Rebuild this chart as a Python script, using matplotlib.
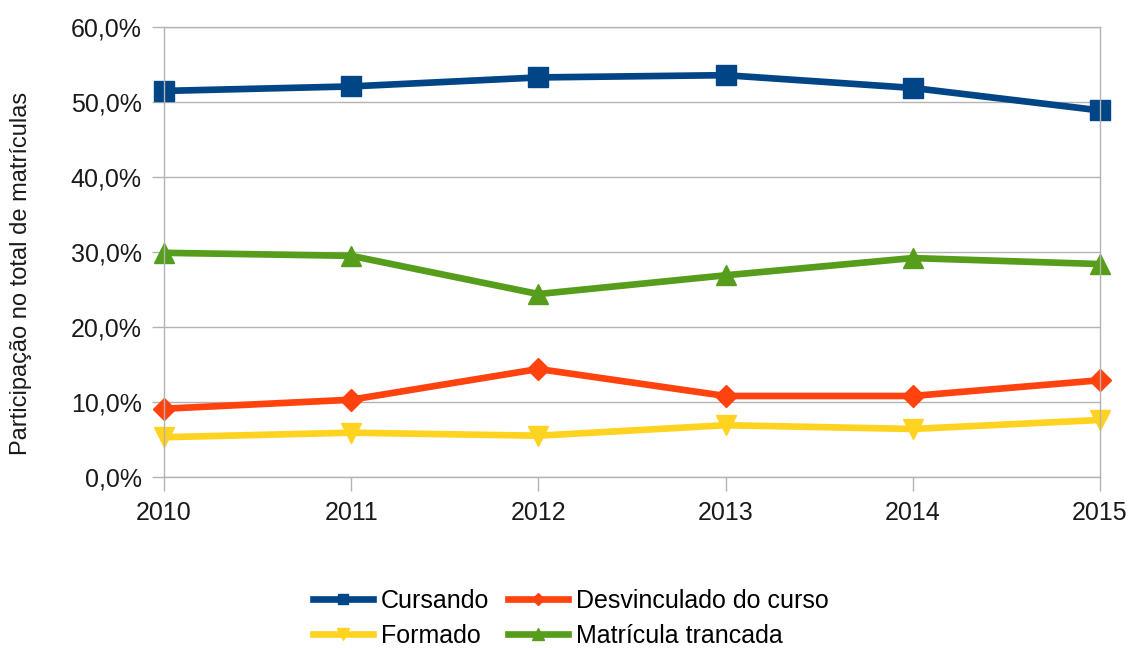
import matplotlib
matplotlib.use('Agg')
import matplotlib.pyplot as plt
from matplotlib.ticker import FuncFormatter

plt.rcParams['font.family'] = ['Liberation Sans', 'DejaVu Sans']

anos = [2010, 2011, 2012, 2013, 2014, 2015]
cursando = [51.5, 52.1, 53.3, 53.6, 51.9, 48.9]
desvinculado = [9.1, 10.3, 14.4, 10.8, 10.8, 12.9]
formado = [5.3, 5.9, 5.5, 6.9, 6.4, 7.6]
trancada = [29.9, 29.5, 24.4, 26.9, 29.2, 28.4]

fig = plt.figure(figsize=(11.31, 6.48), dpi=100)
ax = fig.add_axes([0.145, 0.264, 0.8275, 0.694])

grey = '#b3b3b3'
txt = '#1a1a1a'
lw = 4.8
l1, = ax.plot(anos, cursando, color='#004586', lw=lw, marker='s', ms=14, label='Cursando')
l2, = ax.plot(anos, desvinculado, color='#ff420e', lw=lw, marker='D', ms=11, label='Desvinculado do curso')
l3, = ax.plot(anos, formado, color='#ffd320', lw=lw, marker='v', ms=15, label='Formado')
l4, = ax.plot(anos, trancada, color='#579d1c', lw=lw, marker='^', ms=15, label='Matrícula trancada')

ax.set_xlim(2010, 2015)
ax.set_ylim(0, 60)
ax.set_xticks(anos)
ax.set_yticks(range(0, 61, 10))
ax.yaxis.set_major_formatter(FuncFormatter(lambda v, p: ('%.1f%%' % v).replace('.', ',')))
ax.grid(axis='y', color=grey, lw=1)
ax.set_axisbelow(True)
for s in ax.spines.values():
    s.set_color(grey)
    s.set_linewidth(1)
ax.tick_params(axis='both', colors=grey, width=1, labelsize=18, labelcolor=txt)
ax.tick_params(axis='x', length=10, pad=7)
ax.tick_params(axis='y', length=9, pad=7)
ax.set_ylabel('Participação no total de matrículas', fontsize=17, color=txt)
ax.yaxis.set_label_coords(-0.141, 0.453)

for l in (l1, l2, l3, l4):
    l.set_clip_on(False)

# matplotlib fills legend column by column
fig.legend(handles=[l1, l3, l2, l4], loc='center', bbox_to_anchor=(0.505, 0.046), ncol=2,
           frameon=False, fontsize=18, handlelength=2.4, handletextpad=0.32, columnspacing=0.75,
           labelspacing=0.44, markerscale=0.55, borderpad=0)

fig.savefig('out.png', dpi=100, facecolor='white')
